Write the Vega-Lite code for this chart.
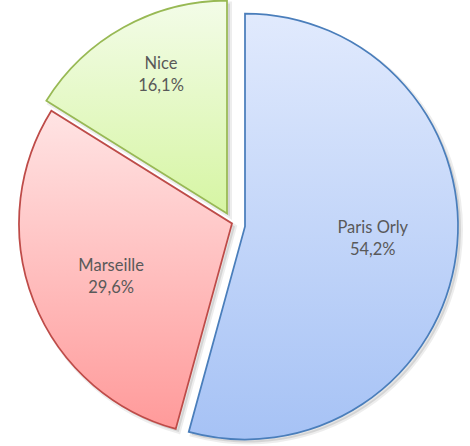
{
  "$schema": "https://vega.github.io/schema/vega-lite/v6.json",
  "width": 470,
  "height": 446,
  "autosize": {"type": "fit", "contains": "padding"},
  "padding": 0,
  "background": "white",
  "config": {"view": {"stroke": null}},
  "data": {
    "values": [
      {"airport": "Paris Orly", "value": 54.2, "label": "Paris Orly\n54,2%"},
      {"airport": "Marseille", "value": 29.6, "label": "Marseille\n29,6%"},
      {"airport": "Nice", "value": 16.1, "label": "Nice\n16,1%"}
    ]
  },
  "transform": [
    {"stack": "value", "groupby": [], "sort": [{"field": "value", "order": "descending"}], "as": ["v0", "v1"]}
  ],
  "layer": [
    {
      "transform": [{"filter": "datum.airport === 'Paris Orly'"}],
      "mark": {"type": "arc", "radius": 213, "xOffset": 13, "yOffset": 7, "fill": "#000", "fillOpacity": 0.1, "stroke": "#000", "strokeOpacity": 0.07, "strokeWidth": 4},
      "encoding": {"theta": {"field": "v0", "type": "quantitative"}, "theta2": {"field": "v1"}}
    },
    {
      "transform": [{"filter": "datum.airport === 'Marseille'"}],
      "mark": {"type": "arc", "radius": 213, "xOffset": 0, "yOffset": 4, "fill": "#000", "fillOpacity": 0.1, "stroke": "#000", "strokeOpacity": 0.07, "strokeWidth": 4},
      "encoding": {"theta": {"field": "v0", "type": "quantitative"}, "theta2": {"field": "v1"}}
    },
    {
      "transform": [{"filter": "datum.airport === 'Nice'"}],
      "mark": {"type": "arc", "radius": 213, "xOffset": -5, "yOffset": -6, "fill": "#000", "fillOpacity": 0.1, "stroke": "#000", "strokeOpacity": 0.07, "strokeWidth": 4},
      "encoding": {"theta": {"field": "v0", "type": "quantitative"}, "theta2": {"field": "v1"}}
    },
    {
      "transform": [{"filter": "datum.airport === 'Paris Orly'"}],
      "mark": {
        "type": "arc", "radius": 213, "xOffset": 10, "yOffset": 4,
        "fill": {"gradient": "linear", "x1": 0, "y1": 0, "x2": 0, "y2": 1, "stops": [{"offset": 0, "color": "#e1eafd"}, {"offset": 1, "color": "#a6c2f5"}]},
        "stroke": "#4a7ebb", "strokeWidth": 1.75
      },
      "encoding": {"theta": {"field": "v0", "type": "quantitative"}, "theta2": {"field": "v1"}}
    },
    {
      "transform": [{"filter": "datum.airport === 'Marseille'"}],
      "mark": {
        "type": "arc", "radius": 213, "xOffset": -3, "yOffset": 1,
        "fill": {"gradient": "linear", "x1": 0, "y1": 0, "x2": 0, "y2": 1, "stops": [{"offset": 0, "color": "#ffe4e4"}, {"offset": 1, "color": "#ff9a9a"}]},
        "stroke": "#be4b48", "strokeWidth": 1.75
      },
      "encoding": {"theta": {"field": "v0", "type": "quantitative"}, "theta2": {"field": "v1"}}
    },
    {
      "transform": [{"filter": "datum.airport === 'Nice'"}],
      "mark": {
        "type": "arc", "radius": 213, "xOffset": -8, "yOffset": -9,
        "fill": {"gradient": "linear", "x1": 0, "y1": 0, "x2": 0, "y2": 1, "stops": [{"offset": 0, "color": "#f3fce8"}, {"offset": 1, "color": "#d6f5a3"}]},
        "stroke": "#98b954", "strokeWidth": 1.75
      },
      "encoding": {"theta": {"field": "v0", "type": "quantitative"}, "theta2": {"field": "v1"}}
    },
    {
      "mark": {"type": "text", "radius": 139, "xOffset": 0, "yOffset": -13, "font": "Lato", "fontSize": 16.5, "color": "#595959", "lineBreak": "\n", "lineHeight": 22, "align": "center", "baseline": "middle"},
      "encoding": {
        "theta": {"field": "value", "type": "quantitative", "stack": true},
        "order": {"field": "v0", "type": "quantitative", "sort": "ascending"},
        "text": {"condition": {"test": "datum.airport === 'Paris Orly'", "field": "label"}, "value": ""}
      }
    },
    {
      "mark": {"type": "text", "radius": 133, "xOffset": 0, "yOffset": -5, "font": "Lato", "fontSize": 16.5, "color": "#595959", "lineBreak": "\n", "lineHeight": 22, "align": "center", "baseline": "middle"},
      "encoding": {
        "theta": {"field": "value", "type": "quantitative", "stack": true},
        "order": {"field": "v0", "type": "quantitative", "sort": "ascending"},
        "text": {"condition": {"test": "datum.airport === 'Marseille'", "field": "label"}, "value": ""}
      }
    },
    {
      "mark": {"type": "text", "radius": 170, "xOffset": 8.5, "yOffset": -10, "font": "Lato", "fontSize": 16.5, "color": "#595959", "lineBreak": "\n", "lineHeight": 22, "align": "center", "baseline": "middle"},
      "encoding": {
        "theta": {"field": "value", "type": "quantitative", "stack": true},
        "order": {"field": "v0", "type": "quantitative", "sort": "ascending"},
        "text": {"condition": {"test": "datum.airport === 'Nice'", "field": "label"}, "value": ""}
      }
    }
  ]
}
